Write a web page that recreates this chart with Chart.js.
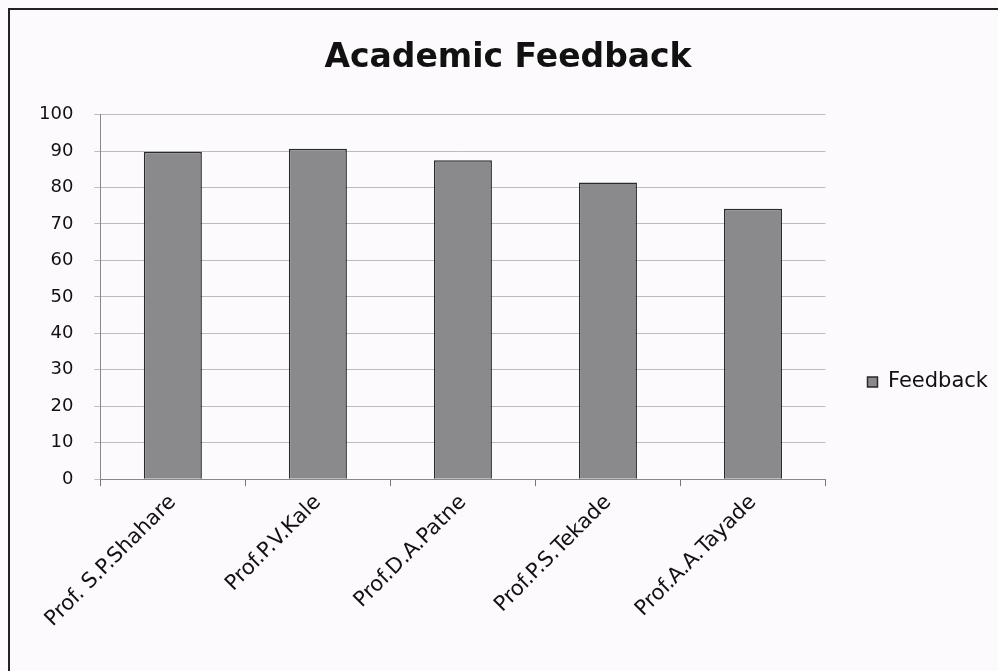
<!DOCTYPE html>
<html>
<head>
<meta charset="utf-8">
<script src="https://cdn.jsdelivr.net/npm/chart.js@4.4.1/dist/chart.umd.min.js"></script>
<style>
  html, body { margin: 0; padding: 0; background: #fcfafc; }
  #wrap { position: relative; width: 998px; height: 671px; }
</style>
</head>
<body>
<div id="wrap"><canvas id="c" width="998" height="671"></canvas></div>
<script>
const categories = ["Prof. S.P.Shahare", "Prof.P.V.Kale", "Prof.D.A.Patne", "Prof.P.S.Tekade", "Prof.A.A.Tayade"];
const feedback = [89.8, 90.6, 87.5, 81.4, 74.2];
const seriesName = "Feedback";
const titleText = "Academic Feedback";

const FONT = "'DejaVu Sans', 'Open Sans', sans-serif";

const frame = {
  id: 'frame',
  beforeDraw(chart) {
    const ctx = chart.ctx;
    ctx.save();
    ctx.fillStyle = '#fcfafc';
    ctx.fillRect(0, 0, chart.width, chart.height);
    ctx.strokeStyle = '#222';
    ctx.lineWidth = 2;
    ctx.beginPath();
    ctx.moveTo(9, chart.height);
    ctx.lineTo(9, 9);
    ctx.lineTo(chart.width, 9);
    ctx.stroke();
    ctx.restore();
  }
};

new Chart(document.getElementById('c'), {
  type: 'bar',
  data: {
    labels: categories,
    datasets: [{
      label: seriesName,
      data: feedback,
      backgroundColor: '#8a8a8c',
      borderColor: '#2a2a2a',
      borderWidth: 1.5,
      barPercentage: 0.4,
      categoryPercentage: 1.0
    }]
  },
  options: {
    responsive: false,
    animation: false,
    layout: { padding: { left: 18, right: 0, top: 10, bottom: 35 } },
    plugins: {
      title: {
        display: true,
        text: titleText,
        color: '#111',
        font: { family: FONT, size: 33, weight: 'bold' },
        padding: { top: 29, bottom: 36 }
      },
      legend: {
        position: 'right',
        title: { display: true, text: ' ', font: { size: 10 }, padding: { top: 106, bottom: 0 } },
        labels: {
          color: '#111',
          font: { family: FONT, size: 21 },
          boxWidth: 10,
          boxHeight: 10,
          padding: 42
        }
      },
      tooltip: { enabled: false }
    },
    scales: {
      x: {
        grid: { display: true, drawOnChartArea: false, offset: true, tickLength: 7, color: '#777' },
        border: { color: '#888', width: 1 },
        ticks: {
          color: '#111',
          font: { family: FONT, size: 21 },
          minRotation: 45, maxRotation: 45,
          padding: 4
        }
      },
      y: {
        min: 0, max: 100,
        grid: { color: '#bcbcbc', tickLength: 6 },
        border: { color: '#888', width: 1 },
        ticks: {
          stepSize: 10,
          color: '#111',
          font: { family: FONT, size: 18 },
          padding: 21
        }
      }
    }
  },
  plugins: [frame]
});
</script>
</body>
</html>
